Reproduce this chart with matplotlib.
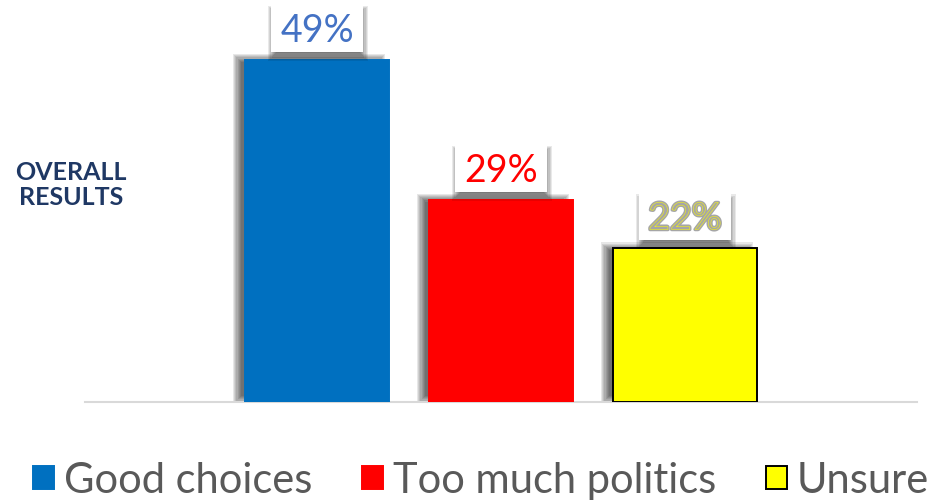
import numpy as np
import matplotlib.pyplot as plt
from matplotlib.patches import Rectangle, Patch
import matplotlib.patheffects as pe

plt.rcParams['font.family'] = ['Lato', 'DejaVu Sans']

# data
labels = ['Good choices', 'Too much politics', 'Unsure']
values = [49, 29, 22]
bar_colors = ['#0070c0', '#ff0000', '#ffff00']
edge_colors = ['#0070c0', '#ff0000', '#000000']
text_colors = ['#4472c4', '#ff0000', '#a6a6a6']

W, H, DPI = 930, 502, 100
fig = plt.figure(figsize=(W / DPI, H / DPI), dpi=DPI)
ax = fig.add_axes([85 / W, 99 / H, 832 / W, 403 / H])
xmin, xmax = -1.261, 3.261
ymax = 57.74
ax.set_xlim(xmin, xmax)
ax.set_ylim(0, ymax)
sx = 832 / (xmax - xmin)   # px per x unit
sy = 403 / ymax            # px per y unit


def soft_shadow(x0, y0, w, h, dx, dy, blur, alpha, z):
    # stack of growing rectangles -> blurred look
    n = 8
    for i in range(n):
        r = blur * (1 - 2 * i / (n - 1))
        ax.add_patch(Rectangle((x0 + (dx - r) / sx, y0 + (dy - r) / sy),
                               w + 2 * r / sx, h + 2 * r / sy,
                               facecolor='black', edgecolor='none',
                               alpha=alpha / n, zorder=z))


x = np.arange(len(values))
bw = 144 / sx
for i, v in enumerate(values):
    soft_shadow(x[i] - bw / 2, 0, bw, v, -8, 2, 4, 0.75, 2)
ax.bar(x, values, width=bw, color=bar_colors, edgecolor=edge_colors,
       linewidth=1.4, zorder=3)

# value labels in white boxes
texts = []
for i, v in enumerate(values):
    t = ax.text(x[i], v + 19 / sy, f'{v}%', ha='center', va='baseline',
                fontsize=27, color=text_colors[i], zorder=7)
    texts.append(t)
# grey glyphs with a thin yellow line inside
texts[2].set_path_effects([pe.Stroke(linewidth=2.6, foreground='#a6a6a6'),
                           pe.Stroke(linewidth=0.35, foreground='#ffff00')])

fig.canvas.draw()
rend = fig.canvas.get_renderer()
for i, v in enumerate(values):
    tw = texts[i].get_window_extent(rend).width
    bwid = (tw + 18) / sx
    bh = 47 / sy
    b0 = v + 8 / sy
    soft_shadow(x[i] - bwid / 2, b0, bwid, bh, 1, -5, 4, 0.7, 4)
    ax.add_patch(Rectangle((x[i] - bwid / 2, b0), bwid, bh, facecolor='white',
                           edgecolor='none', zorder=5))

for s in ['top', 'right', 'left']:
    ax.spines[s].set_visible(False)
ax.spines['bottom'].set_color('#d9d9d9')
ax.spines['bottom'].set_linewidth(1.5)
ax.set_xticks([])
ax.set_yticks([])

fig.text(71 / W, 1 - 185 / H, 'OVERALL\nRESULTS', ha='center', va='center',
         fontsize=18, fontweight='bold', color='#1f3864', linespacing=1.1)

handles = [Patch(facecolor=bar_colors[i], edgecolor=edge_colors[i], linewidth=1.4)
           for i in range(3)]
fig.legend(handles, labels, loc='center', bbox_to_anchor=(481 / W, 1 - 481 / H),
           ncol=3, frameon=False, fontsize=30, labelcolor='#595959',
           handlelength=0.5, handleheight=0.48, handletextpad=0.24,
           columnspacing=1.2, borderpad=0, borderaxespad=0)

fig.savefig('out.png', dpi=DPI)
